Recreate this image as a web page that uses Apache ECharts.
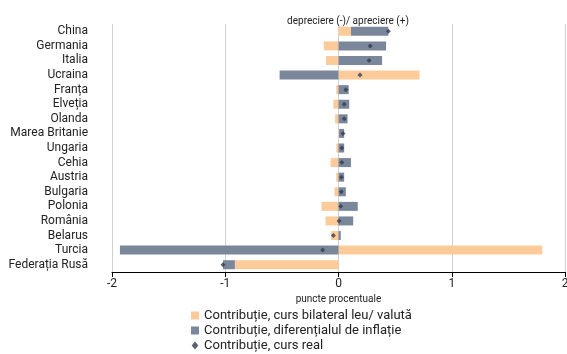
<!DOCTYPE html>
<html>
<head>
<meta charset="utf-8">
<script src="https://cdn.jsdelivr.net/npm/echarts@6/dist/echarts.min.js"></script>
<style>
  html, body { margin: 0; padding: 0; background: #fff; }
  #chart { width: 567px; height: 354px; }
</style>
</head>
<body>
<div id="chart"></div>
<script>
const countries = ["China", "Germania", "Italia", "Ucraina", "Franța", "Elveția", "Olanda", "Marea Britanie",
  "Ungaria", "Cehia", "Austria", "Bulgaria", "Polonia", "România", "Belarus", "Turcia", "Federația Rusă"];
// values, same order as countries
const bilateral = [0.11, -0.13, -0.11, 0.715, -0.02, -0.045, -0.03, 0.005, -0.02, -0.07, -0.02, -0.035, -0.15, -0.115, -0.065, 1.80, -0.915];
const inflatie = [0.33, 0.42, 0.385, -0.52, 0.09, 0.095, 0.08, 0.045, 0.05, 0.11, 0.05, 0.065, 0.17, 0.13, 0.02, -1.93, -0.105];
const cursReal = [0.44, 0.28, 0.27, 0.19, 0.065, 0.05, 0.05, 0.04, 0.03, 0.03, 0.025, 0.025, 0.02, 0.005, -0.045, -0.14, -1.02];
const xTicks = [-2, -1, 0, 1, 2];

const chart = echarts.init(document.getElementById("chart"));
const font = "Roboto, sans-serif";

chart.setOption({
  animation: false,
  textStyle: {fontFamily: font},
  title: {
    text: "depreciere (-)/ apreciere (+)",
    left: 343, top: 11,
    textAlign: "center",
    textStyle: {fontSize: 10, fontWeight: "normal", color: "#222", fontFamily: font},
  },
  grid: {left: 112, right: 2, top: 24, bottom: 82, outerBoundsMode: "none", containLabel: false},
  legend: {
    orient: "vertical",
    left: 186, top: 304,
    height: 60, width: 340,
    itemGap: 2,
    itemWidth: 8, itemHeight: 8,
    textStyle: {fontSize: 13, color: "#222", fontFamily: font},
    data: [
      {name: "Contribuție, curs bilateral leu/ valută", icon: "rect"},
      {name: "Contribuție, diferențialul de inflație", icon: "rect"},
      {name: "Contribuție, curs real", icon: "path://M5,2L7.5,5L5,8L2.5,5Z"},
    ],
  },
  xAxis: {
    type: "value",
    min: xTicks[0], max: xTicks[xTicks.length - 1], interval: 1,
    name: "puncte procentuale",
    nameLocation: "middle",
    nameGap: 22,
    nameTextStyle: {fontSize: 10, color: "#222"},
    axisLine: {show: true, lineStyle: {color: "#000"}},
    axisTick: {show: true, length: 5, lineStyle: {color: "#000"}},
    axisLabel: {fontSize: 12, color: "#222", margin: 6},
    splitLine: {show: true, lineStyle: {color: "#d0d0d0"}},
  },
  yAxis: {
    type: "category",
    inverse: true,
    data: countries,
    axisLine: {show: false},
    axisTick: {show: false},
    axisLabel: {fontSize: 12, color: "#222", margin: 24, interval: 0},
  },
  series: [
    {
      name: "Contribuție, curs bilateral leu/ valută",
      type: "bar", stack: "c", barWidth: 9,
      itemStyle: {color: "#fdcb9a"},
      data: bilateral,
    },
    {
      name: "Contribuție, diferențialul de inflație",
      type: "bar", stack: "c", barWidth: 9,
      itemStyle: {color: "#7a879b"},
      data: inflatie,
    },
    {
      name: "Contribuție, curs real",
      type: "scatter",
      symbol: "diamond", symbolSize: 5,
      itemStyle: {color: "#333c4c"},
      z: 5,
      data: cursReal.map((v, i) => [v, countries[i]]),
    },
  ],
});
</script>
</body>
</html>
